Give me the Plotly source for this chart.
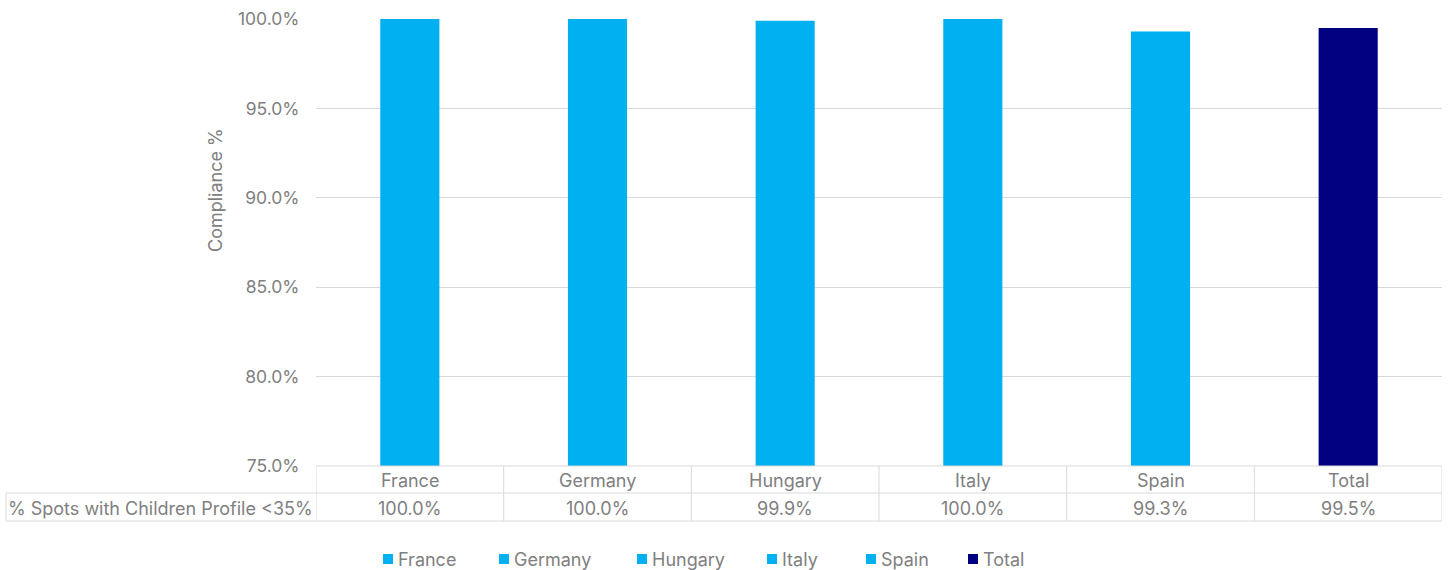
import plotly.graph_objects as go

# Compliance data
categories = ["France", "Germany", "Hungary", "Italy", "Spain", "Total"]
compliance = [1.000, 1.000, 0.999, 1.000, 0.993, 0.995]
colors = ["#00B0F0", "#00B0F0", "#00B0F0", "#00B0F0", "#00B0F0", "#000080"]
row_label = "% Spots with Children Profile <35%"
y_ticks = [0.75, 0.80, 0.85, 0.90, 0.95, 1.00]

W, H = 1451, 570
L, R, T, B = 316, 9, 19, 104
PW, PH = W - L - R, H - T - B
FONT = "Inter"
GREY = "#808080"
LINE = "#d9d9d9"
FS = 18


def py(pixel_y):
    """Paper y coordinate for a pixel row of the page."""
    return (H - B - pixel_y) / PH


def px(pixel_x):
    """Paper x coordinate for a pixel column of the page."""
    return (pixel_x - L) / PW


def label(x, y, text, xref="paper", xanchor="center", size=FS, **kw):
    return dict(x=x, xref=xref, y=y, yref="paper", text=text, showarrow=False,
                xanchor=xanchor, yanchor="middle",
                font=dict(family=FONT, size=size, color=GREY), **kw)


fig = go.Figure()
for cat, val, col in zip(categories, compliance, colors):
    fig.add_trace(go.Bar(x=[cat], y=[val], name=cat, marker_color=col,
                         marker_line_width=0, width=0.315, showlegend=False))

shapes = []
annotations = []

# data table under the plot
n = len(categories)
for k in range(n + 1):
    shapes.append(dict(type="line", xref="x", yref="paper", x0=k - 0.5, x1=k - 0.5,
                       y0=py(466), y1=py(521), line=dict(color=LINE, width=1)))
shapes.append(dict(type="line", xref="paper", yref="paper", x0=0, x1=1,
                   y0=py(466), y1=py(466), line=dict(color=LINE, width=1)))
for yy in (493, 521):
    shapes.append(dict(type="line", xref="paper", yref="paper", x0=px(6), x1=1,
                       y0=py(yy), y1=py(yy), line=dict(color=LINE, width=1)))
shapes.append(dict(type="line", xref="paper", yref="paper", x0=px(6), x1=px(6),
                   y0=py(493), y1=py(521), line=dict(color=LINE, width=1)))

for cat, val in zip(categories, compliance):
    annotations.append(label(cat, py(480), cat, xref="x"))
    annotations.append(label(cat, py(508), f"{val:.1%}", xref="x"))
annotations.append(label(px(160), py(508), row_label))

# y axis title
annotations.append(label(px(215), py(190), "Compliance %", textangle=-90))

# legend
legend_x = [388, 504, 642, 772, 871, 973]
for cat, col, lx in zip(categories, colors, legend_x):
    shapes.append(dict(type="rect", xref="paper", yref="paper",
                       x0=px(lx - 5), x1=px(lx + 5), y0=py(564), y1=py(554),
                       fillcolor=col, line=dict(width=0)))
    annotations.append(label(px(lx + 8), py(559), cat, xanchor="left"))

fig.update_layout(
    width=W, height=H,
    margin=dict(l=L, r=R, t=T, b=B, pad=0),
    paper_bgcolor="white", plot_bgcolor="white",
    barmode="overlay",
    font=dict(family=FONT, size=FS, color=GREY),
    shapes=shapes, annotations=annotations,
    xaxis=dict(range=[-0.5, n - 0.5], showticklabels=False, showgrid=False,
               zeroline=False, showline=False, fixedrange=True),
    yaxis=dict(range=[0.75, 1.0], tickvals=y_ticks, tickformat=".1%",
               showgrid=True, gridcolor=LINE, gridwidth=1, zeroline=False,
               showline=False, ticks="outside", ticklen=12, tickcolor="rgba(0,0,0,0)",
               tickfont=dict(family=FONT, size=17.5, color=GREY), fixedrange=True),
)

fig.write_html("out.html")
